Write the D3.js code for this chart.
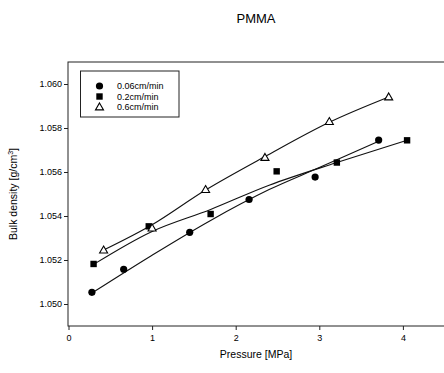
<!DOCTYPE html>
<html><head><meta charset="utf-8">
<script src="https://cdn.jsdelivr.net/npm/d3@7/dist/d3.min.js"></script>
<style>body{margin:0;background:#fff;}svg{display:block;font-family:"Liberation Sans",Arial,sans-serif;}</style>
</head><body>
<script>
const title = "PMMA";
const xLabel = "Pressure [MPa]";
const seriesNames = ["0.06cm/min", "0.2cm/min", "0.6cm/min"];
const xTicks = [0, 1, 2, 3, 4];
const yTicks = [1.050, 1.052, 1.054, 1.056, 1.058, 1.060];
const yTickLabels = ["1.050", "1.052", "1.054", "1.056", "1.058", "1.060"];

// measured points
const pX006 = [0.28, 0.66, 1.45, 2.16, 2.95, 3.71];
const pY006 = [1.05053, 1.05158, 1.05326, 1.05475, 1.05577, 1.05745];
const pX02 = [0.30, 0.96, 1.70, 2.49, 3.21, 4.05];
const pY02 = [1.05182, 1.05353, 1.05409, 1.05603, 1.05643, 1.05744];
const pX06 = [0.42, 1.00, 1.64, 2.35, 3.12, 3.83];
const pY06 = [1.05245, 1.05345, 1.05520, 1.05666, 1.05829, 1.05941];

// trend curves
const fX006 = [0.28, 1.00, 1.70, 2.40, 3.00, 3.71];
const fY006 = [1.05050, 1.05222, 1.05380, 1.05520, 1.05620, 1.05740];
const fX02 = [0.30, 1.00, 1.70, 2.40, 3.20, 4.05];
const fY02 = [1.05180, 1.05330, 1.05430, 1.05540, 1.05642, 1.05744];
const fX06 = [0.42, 1.00, 1.64, 2.35, 3.12, 3.83];
const fY06 = [1.05245, 1.05360, 1.05518, 1.05670, 1.05826, 1.05941];

const W = 444, H = 373;
const x = d3.scaleLinear().domain([0, 4.5]).range([68.5, 444.7]);
const y = d3.scaleLinear().domain([1.049, 1.061]).range([326, 62]);

const svg = d3.select("body").append("svg").attr("width", W).attr("height", H);

svg.append("text").attr("x", 256).attr("y", 23).attr("text-anchor", "middle")
  .attr("font-size", 13).text(title);

// plot frame
svg.append("rect").attr("x", 68).attr("y", 62).attr("width", 400).attr("height", 264)
  .attr("fill", "none").attr("stroke", "#222").attr("stroke-width", 1);

// axes
const xAxis = d3.axisBottom(x).tickValues(xTicks).tickFormat(d3.format("d")).tickSizeOuter(0).tickSize(4);
const gx = svg.append("g").attr("transform", "translate(0,326)").call(xAxis);
gx.select(".domain").remove();
gx.selectAll("text").attr("font-size", 9).attr("dy", "0.9em").attr("font-family", "Liberation Sans, Arial, sans-serif");
gx.selectAll("line").attr("stroke", "#222");

const yAxis = d3.axisLeft(y).tickValues(yTicks).tickFormat((d, i) => yTickLabels[i]).tickSizeOuter(0).tickSize(4);
const gy = svg.append("g").attr("transform", "translate(68,0)").call(yAxis);
gy.select(".domain").remove();
gy.selectAll("text").attr("font-size", 9).attr("x", -6).attr("font-family", "Liberation Sans, Arial, sans-serif");
gy.selectAll("line").attr("stroke", "#222");

svg.append("text").attr("x", 256).attr("y", 358).attr("text-anchor", "middle")
  .attr("font-size", 10.5).text(xLabel);

const yt = svg.append("text").attr("transform", "translate(17,194) rotate(-90)")
  .attr("text-anchor", "middle").attr("font-size", 10.5);
yt.append("tspan").text("Bulk density [g/cm");
yt.append("tspan").attr("font-size", 7).attr("dy", -4).text("3");
yt.append("tspan").attr("dy", 4).text("]");

// curves
const line = d3.line().x(d => x(d[0])).y(d => y(d[1])).curve(d3.curveCatmullRom.alpha(0.5));
[[fX006, fY006], [fX02, fY02], [fX06, fY06]].forEach(([fx, fy]) => {
  svg.append("path").attr("d", line(fx.map((v, i) => [v, fy[i]])))
    .attr("fill", "none").attr("stroke", "#111").attr("stroke-width", 1.1);
});

// markers
const tri = d3.symbol().type(d3.symbolTriangle).size(28);
function drawMarker(g, type, cx, cy) {
  if (type === 0) g.append("circle").attr("cx", cx).attr("cy", cy).attr("r", 3.6).attr("fill", "#000");
  else if (type === 1) g.append("rect").attr("x", cx - 3.2).attr("y", cy - 3.2).attr("width", 6.4).attr("height", 6.4).attr("fill", "#000");
  else g.append("path").attr("d", tri()).attr("transform", `translate(${cx},${cy + 0.6})`)
    .attr("fill", "#fff").attr("stroke", "#000").attr("stroke-width", 1.1);
}
const pts = svg.append("g");
[[pX006, pY006], [pX02, pY02], [pX06, pY06]].forEach(([px, py], s) => {
  px.forEach((v, i) => drawMarker(pts, s, x(v), y(py[i])));
});

// legend
const lg = svg.append("g");
lg.append("rect").attr("x", 80.5).attr("y", 71).attr("width", 98.5).attr("height", 46)
  .attr("fill", "#fff").attr("stroke", "#222").attr("stroke-width", 1);
seriesNames.forEach((n, i) => {
  const ly = 86 + i * 10.5;
  drawMarker(lg, i, 99.5, ly);
  lg.append("text").attr("x", 117).attr("y", ly + 3).attr("font-size", 9).text(n);
});
</script>
</body></html>
